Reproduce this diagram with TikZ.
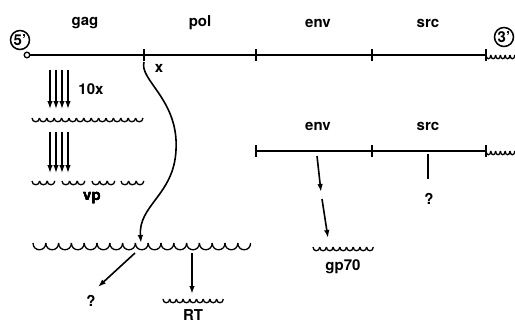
\documentclass[tikz,border=0pt]{standalone}
\usepackage{fontspec}
\setmainfont{TeX Gyre Heros}
\usetikzlibrary{positioning, arrows.meta}

% scalloped line: start x, y, count, width, depth
\newcommand{\wavyline}[5]{%
  \foreach \i in {1,...,#3}{
    \draw[line width=1.3pt] ({#1+(\i-1)*#4},#2) .. controls ({#1+(\i-1)*#4},{#2+#5}) and ({#1+\i*#4},{#2+#5}) .. ({#1+\i*#4},#2);
  }}

\begin{document}
\begin{tikzpicture}[x=1pt, y=-1pt, line width=1.6pt,
    font=\fontsize{15}{17}\bfseries\selectfont,
    lbl/.style={inner sep=0pt},
    end/.style={circle, draw, line width=1.5pt, inner sep=0pt, minimum size=19pt},
    arr/.style={-{Latex[length=8pt,width=5.5pt]}, line width=1.6pt}]
    \useasboundingbox (0,0) rectangle (515,324);

    % genome
    \node[end] (five) at (20,40) {5'};
    \node[end] (three) at (504,37) {3'};
    \coordinate (g0) at (27,55);
    \coordinate (g1) at (144,55);
    \coordinate (g4) at (486,55);
    \draw (g0) -- (g4);
    \draw[fill=white, line width=1.3pt] (g0) circle (2.8);
    \foreach \x in {144,256,372,486}
        \draw[line width=1.4pt] (\x,49) -- (\x,61);
    \wavyline{486}{55}{6}{4.8}{5}

    \node[lbl] (gag) at (85,23) {gag};
    \node[lbl] (pol) at (200,23) {pol};
    \node[lbl] (env) at (318,23) {env};
    \node[lbl] (src) at (428,23) {src};
    \node[lbl] (xx) at (159,68) {x};

    % gag precursor and cleavage
    \foreach \x [count=\k] in {50,56,62,68} {
        \coordinate (a\k) at (\x,70);
        \coordinate (b\k) at (\x,109);
        \draw[arr, line width=1.3pt] (a\k) -- (b\k);
    }
    \node[lbl] (ten) at (91,89) {10x};
    \wavyline{32}{118}{15}{7.4}{5}

    \foreach \x [count=\k] in {50,56,62,68} {
        \coordinate (c\k) at (\x,132);
        \coordinate (d\k) at (\x,173);
        \draw[arr, line width=1.3pt] (c\k) -- (d\k);
    }
    \foreach \x in {32,62,92,121}
        \wavyline{\x}{181}{3}{7.6}{5}
    \node[lbl] (vp) at (92,198) {vp};

    % gag-pol readthrough
    \coordinate (big) at (141,243);
    \draw[arr] (g1) ++(0,7) .. controls (139,80) and (179,100) .. (176,150)
        .. controls (174,195) and (138,205) .. (big);
    \wavyline{33}{243}{17}{12.8}{9}
    \coordinate (p1) at (135,253);
    \coordinate (q1) at (98,287);
    \draw[arr] (p1) -- (q1);
    \node[lbl] (qa) at (91,301) {?};
    \coordinate (p2) at (192,253);
    \coordinate (q2) at (192,294);
    \draw[arr] (p2) -- (q2);
    \wavyline{163}{299}{9}{6.7}{5}
    \node[lbl] (rt) at (193,315) {RT};

    % subgenomic message
    \coordinate (s0) at (256,151);
    \coordinate (s3) at (486,151);
    \draw (s0) -- (s3);
    \foreach \x in {256,372,486}
        \draw[line width=1.4pt] (\x,145) -- (\x,157);
    \wavyline{486}{151}{6}{4.8}{5}
    \node[lbl] (env2) at (318,126) {env};
    \node[lbl] (src2) at (428,126) {src};

    \coordinate (e1) at (317,156);
    \coordinate (e2) at (321,192);
    \coordinate (e3) at (322,199);
    \coordinate (e4) at (328,238);
    \draw[arr] (e1) -- (e2);
    \draw[arr] (e3) -- (e4);
    \wavyline{313}{247}{9}{6.7}{5}
    \node[lbl] (gp) at (343,267) {gp70};

    \coordinate (r1) at (428,154);
    \coordinate (r2) at (428,179);
    \draw (r1) -- (r2);
    \node[lbl] (qb) at (429,199) {?};
\end{tikzpicture}
\end{document}
